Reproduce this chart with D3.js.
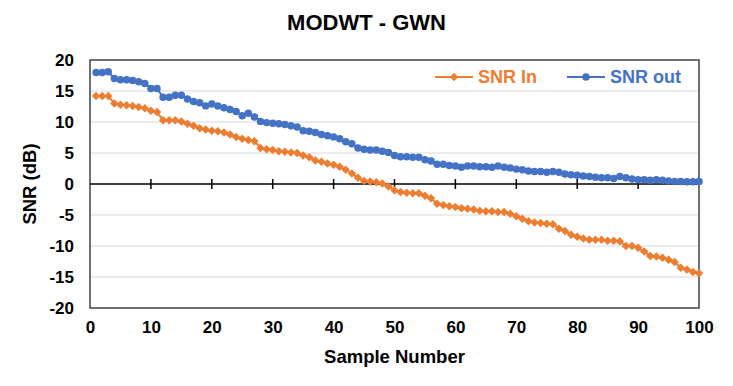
<!DOCTYPE html>
<html>
<head>
<meta charset="utf-8">
<script src="https://cdn.jsdelivr.net/npm/d3@7.9.0/dist/d3.min.js"></script>
<style>
  body { margin: 0; background: #fff; }
  svg { display: block; font-family: 'Liberation Sans', Arial, sans-serif; font-weight: bold; }
</style>
</head>
<body>
<div id="chart"></div>
<script>
// sample numbers 1..100
const samples = d3.range(1, 101);

const snrIn = [
  14.2, 14.2, 14.2, 13.0, 12.8, 12.7, 12.6, 12.4, 12.2, 11.8,
  11.6, 10.3, 10.3, 10.3, 10.1, 9.7, 9.4, 9.0, 8.8, 8.6,
  8.5, 8.3, 8.0, 7.6, 7.3, 7.1, 6.9, 5.8, 5.6, 5.5,
  5.3, 5.2, 5.1, 5.0, 4.6, 4.3, 3.8, 3.6, 3.3, 3.1,
  2.8, 2.3, 1.7, 1.0, 0.5, 0.4, 0.3, 0.1, -0.4, -1.0,
  -1.3, -1.4, -1.5, -1.5, -1.9, -2.3, -3.2, -3.4, -3.6, -3.7,
  -3.9, -4.0, -4.1, -4.3, -4.4, -4.4, -4.5, -4.5, -4.8, -5.2,
  -5.6, -6.0, -6.2, -6.3, -6.4, -6.5, -7.2, -7.6, -8.2, -8.5,
  -8.8, -9.0, -9.0, -9.0, -9.15, -9.15, -9.25, -10.0, -10.0, -10.3,
  -10.9, -11.6, -11.7, -11.9, -12.2, -12.6, -13.5, -13.8, -14.2, -14.4
];

const snrOut = [
  18.0, 18.0, 18.1, 17.0, 16.8, 16.8, 16.7, 16.5, 16.2, 15.4,
  15.4, 14.0, 14.0, 14.3, 14.3, 13.7, 13.3, 13.1, 12.6, 12.9,
  12.6, 12.3, 12.0, 11.7, 11.0, 11.4, 10.8, 10.1, 9.9, 9.8,
  9.7, 9.6, 9.4, 9.2, 8.6, 8.5, 8.3, 8.0, 7.8, 7.6,
  7.3, 6.8, 6.5, 5.8, 5.6, 5.5, 5.5, 5.3, 5.1, 4.6,
  4.4, 4.4, 4.3, 4.3, 3.9, 3.7, 3.2, 3.2, 3.0, 2.9,
  2.7, 2.9, 2.9, 2.8, 2.8, 2.7, 2.9, 2.7, 2.6, 2.4,
  2.3, 2.1, 2.0, 2.0, 1.9, 2.0, 1.9, 1.6, 1.5, 1.4,
  1.3, 1.2, 1.1, 1.0, 1.0, 0.9, 1.2, 1.0, 0.8, 0.7,
  0.7, 0.6, 0.7, 0.6, 0.5, 0.4, 0.4, 0.35, 0.35, 0.4
];

const xTicks = [0, 10, 20, 30, 40, 50, 60, 70, 80, 90, 100];
const yTicks = [-20, -15, -10, -5, 0, 5, 10, 15, 20];

const series = [
  { name: 'SNR In', values: snrIn, color: '#ED7D31', marker: 'diamond' },
  { name: 'SNR out', values: snrOut, color: '#4472C4', marker: 'circle' },
];

const width = 733;
const height = 386;
const margin = { top: 60, right: 34, bottom: 78, left: 90 };

const svg = d3.select('#chart')
  .append('svg')
  .attr('width', width)
  .attr('height', height);

const xScale = d3.scaleLinear()
  .domain([0, 100])
  .range([margin.left, width - margin.right]);

const yScale = d3.scaleLinear()
  .domain([-20, 20])
  .range([height - margin.bottom, margin.top]);

// title
svg.append('text')
  .attr('x', width / 2)
  .attr('y', 30)
  .attr('text-anchor', 'middle')
  .style('font-size', '22px')
  .attr('fill', '#000')
  .text('MODWT - GWN');

// gridlines
svg.append('g')
  .selectAll('line')
  .data(yTicks.filter((d) => d !== 0 && Math.abs(d) !== 20))
  .join('line')
  .attr('x1', xScale(0))
  .attr('x2', xScale(100))
  .attr('y1', (d) => yScale(d))
  .attr('y2', (d) => yScale(d))
  .attr('stroke', '#d9d9d9')
  .attr('stroke-width', 1);

// plot frame
svg.append('rect')
  .attr('x', xScale(0))
  .attr('y', yScale(20))
  .attr('width', xScale(100) - xScale(0))
  .attr('height', yScale(-20) - yScale(20))
  .attr('fill', 'none')
  .attr('stroke', '#262626')
  .attr('stroke-width', 1.3);

// y tick labels (plain hyphen for negatives, like the original)
const yAxis = svg.append('g')
  .attr('transform', `translate(${xScale(0)}, 0)`)
  .call(d3.axisLeft(yScale).tickValues(yTicks).tickSize(0).tickPadding(16)
    .tickFormat((d) => String(d)));
yAxis.select('.domain').remove();
yAxis.selectAll('text')
  .style('font-size', '17px')
  .style('font-family', "'Liberation Sans', Arial, sans-serif")
  .attr('fill', '#000');

// x tick labels
const xAxis = svg.append('g')
  .attr('transform', `translate(0, ${yScale(-20)})`)
  .call(d3.axisBottom(xScale).tickValues(xTicks).tickSize(0).tickPadding(13)
    .tickFormat((d) => String(d)));
xAxis.select('.domain').remove();
xAxis.selectAll('text')
  .style('font-size', '17px')
  .style('font-family', "'Liberation Sans', Arial, sans-serif")
  .attr('fill', '#000');

// zero line with crossing tick marks
const zero = yScale(0);
svg.append('line')
  .attr('x1', xScale(0))
  .attr('x2', xScale(100))
  .attr('y1', zero)
  .attr('y2', zero)
  .attr('stroke', '#000')
  .attr('stroke-width', 1.5);

svg.append('g')
  .selectAll('line')
  .data(xTicks.slice(1, -1))
  .join('line')
  .attr('x1', (d) => xScale(d))
  .attr('x2', (d) => xScale(d))
  .attr('y1', zero - 5)
  .attr('y2', zero + 5)
  .attr('stroke', '#000')
  .attr('stroke-width', 1.5);

// axis titles
svg.append('text')
  .attr('x', (xScale(0) + xScale(100)) / 2)
  .attr('y', 363)
  .attr('text-anchor', 'middle')
  .style('font-size', '18.5px')
  .text('Sample Number');

svg.append('text')
  .attr('transform', `translate(36, ${yScale(0)}) rotate(-90)`)
  .attr('text-anchor', 'middle')
  .style('font-size', '18.5px')
  .text('SNR (dB)');

function markerPath(type) {
  return type === 'diamond'
    ? d3.symbol(d3.symbolDiamond2, 46)()
    : d3.symbol(d3.symbolCircle, 44)();
}

const line = d3.line()
  .x((d, i) => xScale(samples[i]))
  .y((d) => yScale(d));

for (const s of series) {
  const g = svg.append('g');

  g.append('path')
    .datum(s.values)
    .attr('d', line)
    .attr('fill', 'none')
    .attr('stroke', s.color)
    .attr('stroke-width', 2);

  g.selectAll('path.marker')
    .data(s.values)
    .join('path')
    .attr('class', 'marker')
    .attr('d', markerPath(s.marker))
    .attr('transform', (d, i) => `translate(${xScale(samples[i])}, ${yScale(d)})`)
    .attr('fill', s.color);
}

// legend
const legendItems = [
  { x: 435, textX: 478 },
  { x: 567, textX: 610 },
];

series.forEach((s, i) => {
  const item = legendItems[i];
  const g = svg.append('g').attr('transform', `translate(0, 77)`);

  g.append('line')
    .attr('x1', item.x)
    .attr('x2', item.x + 38)
    .attr('y1', 0)
    .attr('y2', 0)
    .attr('stroke', s.color)
    .attr('stroke-width', 2);

  g.append('path')
    .attr('d', markerPath(s.marker))
    .attr('transform', `translate(${item.x + 19}, 0)`)
    .attr('fill', s.color);

  g.append('text')
    .attr('x', item.textX)
    .attr('y', 6)
    .style('font-size', '18px')
    .attr('fill', s.color)
    .text(s.name);
});
</script>
</body>
</html>
